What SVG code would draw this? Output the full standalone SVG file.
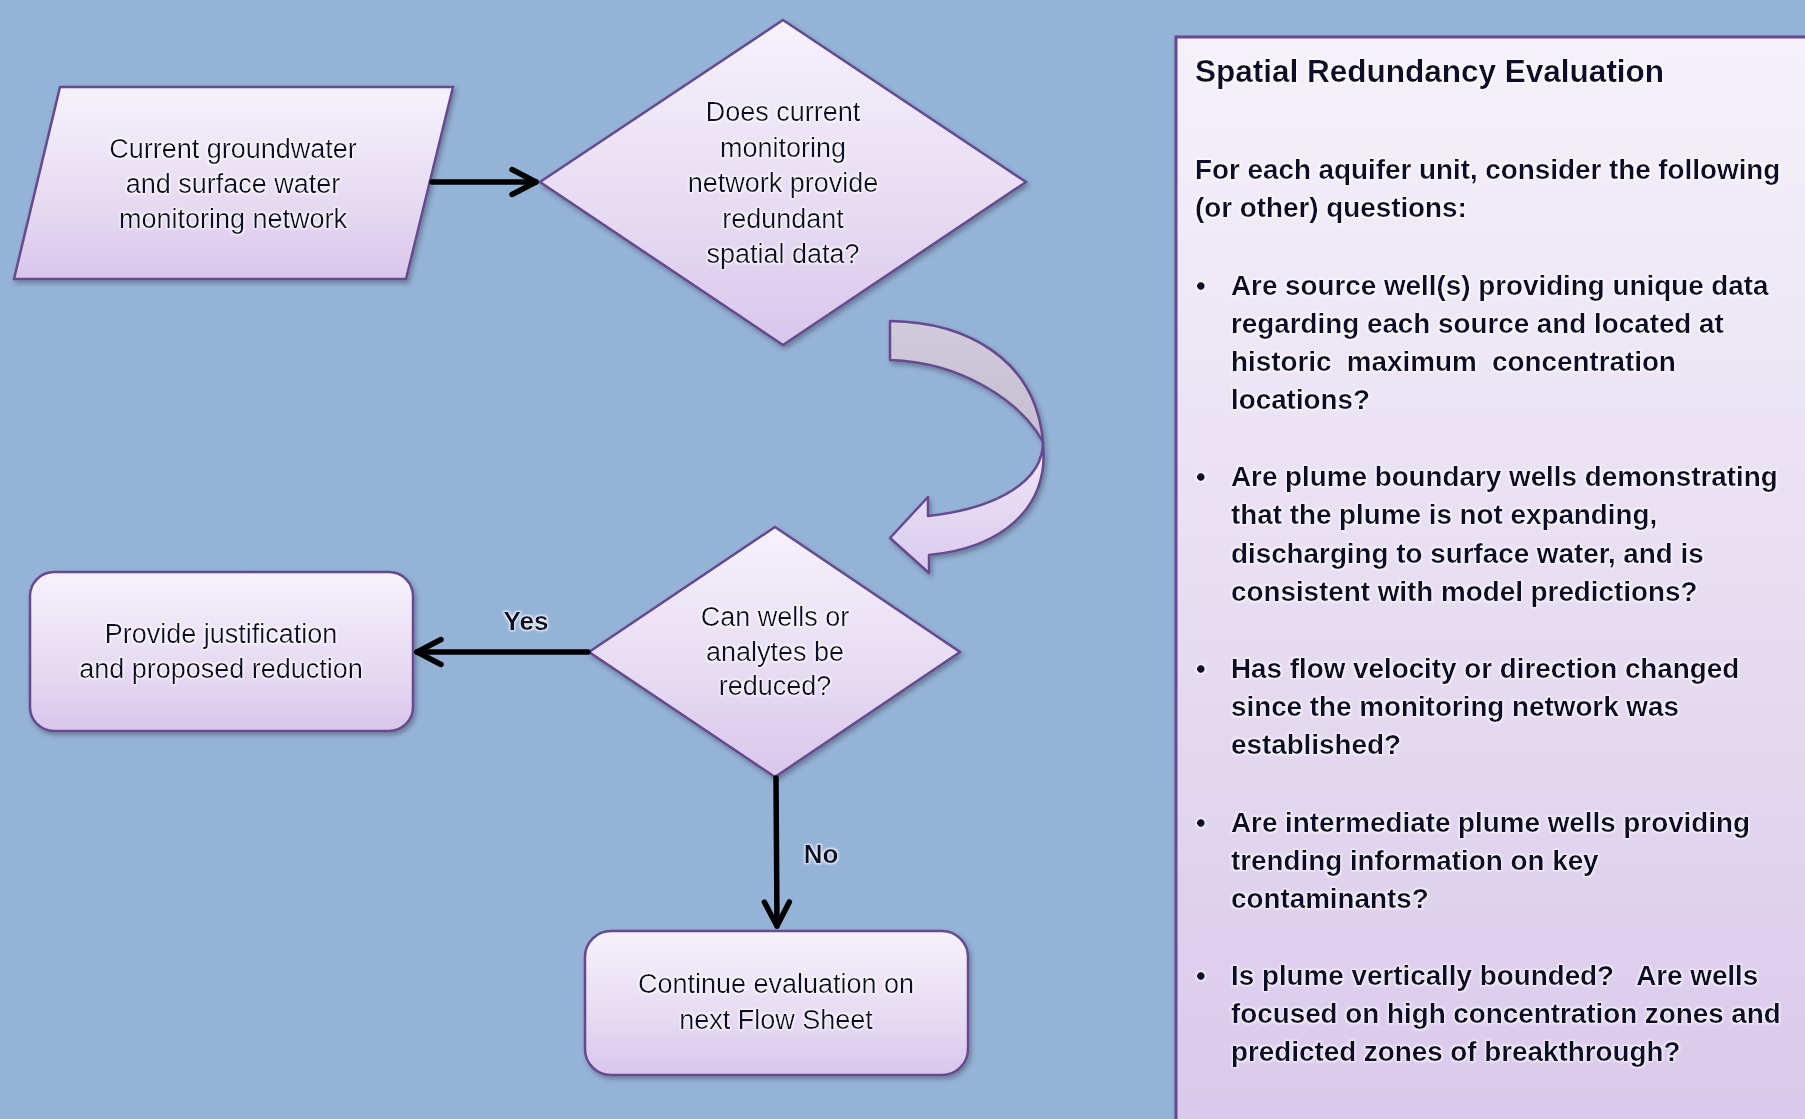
<svg xmlns="http://www.w3.org/2000/svg" width="1805" height="1119" viewBox="0 0 1805 1119">
<style>
.node{stroke:#66498f;stroke-width:2.5;fill:url(#nodeFill)}
.t{font-family:"Liberation Sans",Arial,sans-serif;font-size:27px;fill:#0e0e2c;text-anchor:middle}
.lbl{font-family:"Liberation Sans",Arial,sans-serif;font-size:26px;font-weight:bold;fill:#0e0e2c;text-anchor:middle}
.p{font-family:"Liberation Sans",Arial,sans-serif;font-size:27.8px;font-weight:bold;fill:#0e0e2c;white-space:pre}
.h{font-family:"Liberation Sans",Arial,sans-serif;font-size:31.5px;font-weight:bold;fill:#0e0e2c}
.conn{stroke:#000;stroke-width:5.5;fill:none;stroke-linecap:round}
</style>
<defs>
<linearGradient id="nodeFill" x1="0" y1="0" x2="0" y2="1">
<stop offset="0" stop-color="#f6f2fb"/>
<stop offset="0.6" stop-color="#e6dbf2"/>
<stop offset="1" stop-color="#d8c6ec"/>
</linearGradient>
<linearGradient id="panelFill" x1="0" y1="0" x2="0" y2="1">
<stop offset="0" stop-color="#f5f1f9"/>
<stop offset="0.5" stop-color="#e6dcf1"/>
<stop offset="1" stop-color="#d6c4ea"/>
</linearGradient>
<linearGradient id="ribbonBack" x1="0" y1="0" x2="0" y2="1">
<stop offset="0" stop-color="#d2cbdb"/>
<stop offset="1" stop-color="#c5bdd1"/>
</linearGradient>
<linearGradient id="ribbonFront" x1="0" y1="0" x2="0" y2="1">
<stop offset="0" stop-color="#efe8f7"/>
<stop offset="1" stop-color="#dacaee"/>
</linearGradient>
<filter id="shadow" x="-10%" y="-10%" width="125%" height="130%">
<feGaussianBlur in="SourceAlpha" stdDeviation="2.5"/>
<feOffset dx="2" dy="3" result="o"/>
<feFlood flood-color="#000" flood-opacity="0.3"/>
<feComposite in2="o" operator="in" result="s"/>
<feMerge><feMergeNode in="s"/><feMergeNode in="SourceGraphic"/></feMerge>
</filter>
<filter id="glow" x="-10%" y="-40%" width="120%" height="180%">
<feMorphology in="SourceAlpha" operator="dilate" radius="1" result="d"/>
<feGaussianBlur in="d" stdDeviation="1.3" result="b"/>
<feFlood flood-color="#ffffff" flood-opacity="0.85"/>
<feComposite in2="b" operator="in" result="g"/>
<feMerge><feMergeNode in="g"/><feMergeNode in="SourceGraphic"/></feMerge>
</filter>
<marker id="chev" markerUnits="userSpaceOnUse" viewBox="-30 -17 34 34" refX="0" refY="0" markerWidth="34" markerHeight="34" orient="auto">
<path d="M-24,-12.5 L0,0 L-24,12.5" fill="none" stroke="#000" stroke-width="5.5" stroke-linecap="round" stroke-linejoin="round"/>
</marker>
</defs>

<rect width="1805" height="1119" fill="#95b3d7"/>

<g id="input-network">
<path class="node" filter="url(#shadow)" d="M60,87 L453,87 L406,279 L14,279 Z"/>
<g filter="url(#glow)">
<text class="t" x="233" y="158">Current groundwater</text>
<text class="t" x="233" y="193">and surface water</text>
<text class="t" x="233" y="228">monitoring network</text>
</g>
</g>

<g id="decision-redundant">
<path class="node" filter="url(#shadow)" d="M783,20 L1026,182 L783,345 L540,182 Z"/>
<g filter="url(#glow)">
<text class="t" x="783" y="121">Does current</text>
<text class="t" x="783" y="157">monitoring</text>
<text class="t" x="783" y="192">network provide</text>
<text class="t" x="783" y="228">redundant</text>
<text class="t" x="783" y="263">spatial data?</text>
</g>
</g>

<g id="curved-arrow" filter="url(#shadow)">
<path d="M890,321 C965,322 1036,358 1043,442 C1020,400 960,362 890,360 Z" fill="url(#ribbonBack)" stroke="#66498f" stroke-width="2.5" stroke-linejoin="round"/>
<path d="M1043,442 C1043,480 1000,508 928,516 L928,497 L890,538 L929,573 L929,555 C1000,548 1050,510 1043,442 Z" fill="url(#ribbonFront)" stroke="#66498f" stroke-width="2.5" stroke-linejoin="round"/>
</g>

<g id="decision-reduce">
<path class="node" filter="url(#shadow)" d="M775,527 L960,652 L775,777 L589,652 Z"/>
<g filter="url(#glow)">
<text class="t" x="775" y="626">Can wells or</text>
<text class="t" x="775" y="661">analytes be</text>
<text class="t" x="775" y="695">reduced?</text>
</g>
</g>

<g id="provide-justification">
<rect class="node" filter="url(#shadow)" x="30" y="572" width="383" height="159" rx="24" ry="24"/>
<g filter="url(#glow)">
<text class="t" x="221" y="643">Provide justification</text>
<text class="t" x="221" y="678">and proposed reduction</text>
</g>
</g>

<g id="continue-evaluation">
<rect class="node" filter="url(#shadow)" x="585" y="931" width="383" height="144" rx="26" ry="26"/>
<g filter="url(#glow)">
<text class="t" x="776" y="993">Continue evaluation on</text>
<text class="t" x="776" y="1029">next Flow Sheet</text>
</g>
</g>

<g id="connectors">
<line class="conn" x1="432" y1="182" x2="536" y2="182" marker-end="url(#chev)"/>
<line class="conn" x1="588" y1="652" x2="417" y2="652" marker-end="url(#chev)"/>
<line class="conn" x1="776" y1="778" x2="777" y2="926" marker-end="url(#chev)"/>
<g filter="url(#glow)">
<text class="lbl" x="526" y="630">Yes</text>
<text class="lbl" x="821" y="863">No</text>
</g>
</g>

<g id="spatial-redundancy-panel">
<rect x="1176" y="37" width="700" height="1200" fill="url(#panelFill)" stroke="#66498f" stroke-width="3" filter="url(#shadow)"/>
<g filter="url(#glow)">
<text class="h" x="1195" y="82">Spatial Redundancy Evaluation</text>
<text class="p" x="1195" y="179">For each aquifer unit, consider the following</text>
<text class="p" x="1195" y="217">(or other) questions:</text>

<text class="p" x="1196" y="295">•</text>
<text class="p" x="1231" y="295">Are source well(s) providing unique data</text>
<text class="p" x="1231" y="333">regarding each source and located at</text>
<text class="p" x="1231" y="371">historic  maximum  concentration</text>
<text class="p" x="1231" y="409">locations?</text>

<text class="p" x="1196" y="486">•</text>
<text class="p" x="1231" y="486">Are plume boundary wells demonstrating</text>
<text class="p" x="1231" y="524">that the plume is not expanding,</text>
<text class="p" x="1231" y="563">discharging to surface water, and is</text>
<text class="p" x="1231" y="601">consistent with model predictions?</text>

<text class="p" x="1196" y="678">•</text>
<text class="p" x="1231" y="678">Has flow velocity or direction changed</text>
<text class="p" x="1231" y="716">since the monitoring network was</text>
<text class="p" x="1231" y="754">established?</text>

<text class="p" x="1196" y="832">•</text>
<text class="p" x="1231" y="832">Are intermediate plume wells providing</text>
<text class="p" x="1231" y="870">trending information on key</text>
<text class="p" x="1231" y="908">contaminants?</text>

<text class="p" x="1196" y="985">•</text>
<text class="p" x="1231" y="985">Is plume vertically bounded?   Are wells</text>
<text class="p" x="1231" y="1023">focused on high concentration zones and</text>
<text class="p" x="1231" y="1061">predicted zones of breakthrough?</text>
</g>
</g>
</svg>
